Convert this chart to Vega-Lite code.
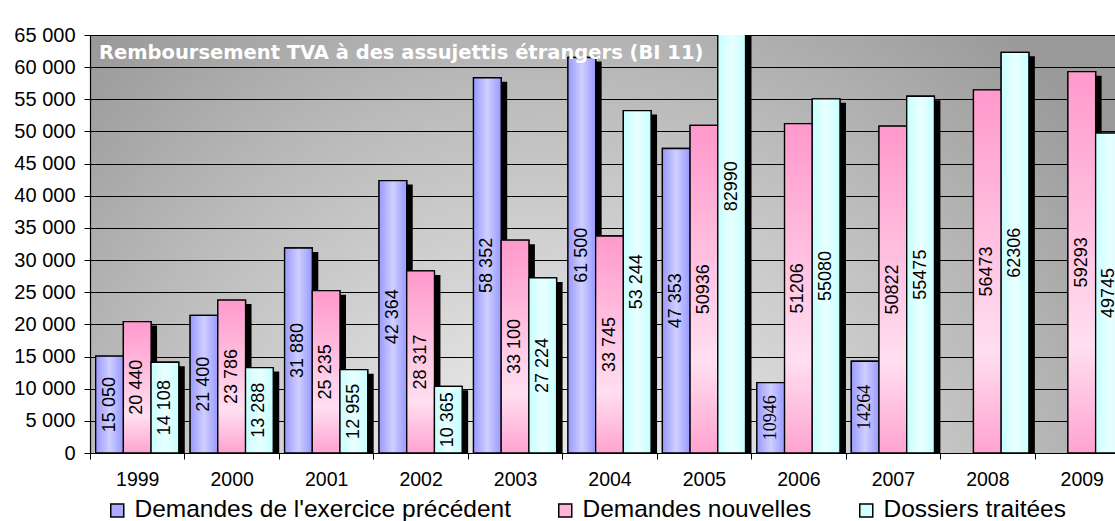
{
  "$schema": "https://vega.github.io/schema/vega-lite/v6.json",
  "width": 1039,
  "height": 418,
  "autosize": {"type": "none"},
  "padding": {"left": 90, "top": 35, "right": -14, "bottom": 68},
  "background": "white",
  "title": {
    "text": "Remboursement TVA à des assujettis étrangers (BI 11)",
    "anchor": "start",
    "frame": "group",
    "orient": "top",
    "offset": -53,
    "dx": 9,
    "baseline": "alphabetic",
    "color": "white",
    "fontSize": 19.5,
    "fontWeight": "bold",
    "font": "DejaVu Sans"
  },
  "data": {
    "values": [
      {"year": "1999", "series": "Demandes de l'exercice précédent", "value": 15050, "label": "15 050"},
      {"year": "1999", "series": "Demandes nouvelles", "value": 20440, "label": "20 440"},
      {"year": "1999", "series": "Dossiers traitées", "value": 14108, "label": "14 108"},
      {"year": "2000", "series": "Demandes de l'exercice précédent", "value": 21400, "label": "21 400"},
      {"year": "2000", "series": "Demandes nouvelles", "value": 23786, "label": "23 786"},
      {"year": "2000", "series": "Dossiers traitées", "value": 13288, "label": "13 288"},
      {"year": "2001", "series": "Demandes de l'exercice précédent", "value": 31880, "label": "31 880"},
      {"year": "2001", "series": "Demandes nouvelles", "value": 25235, "label": "25 235"},
      {"year": "2001", "series": "Dossiers traitées", "value": 12955, "label": "12 955"},
      {"year": "2002", "series": "Demandes de l'exercice précédent", "value": 42364, "label": "42 364"},
      {"year": "2002", "series": "Demandes nouvelles", "value": 28317, "label": "28 317"},
      {"year": "2002", "series": "Dossiers traitées", "value": 10365, "label": "10 365"},
      {"year": "2003", "series": "Demandes de l'exercice précédent", "value": 58352, "label": "58 352"},
      {"year": "2003", "series": "Demandes nouvelles", "value": 33100, "label": "33 100"},
      {"year": "2003", "series": "Dossiers traitées", "value": 27224, "label": "27 224"},
      {"year": "2004", "series": "Demandes de l'exercice précédent", "value": 61500, "label": "61 500"},
      {"year": "2004", "series": "Demandes nouvelles", "value": 33745, "label": "33 745"},
      {"year": "2004", "series": "Dossiers traitées", "value": 53244, "label": "53 244"},
      {"year": "2005", "series": "Demandes de l'exercice précédent", "value": 47353, "label": "47 353"},
      {"year": "2005", "series": "Demandes nouvelles", "value": 50936, "label": "50936"},
      {"year": "2005", "series": "Dossiers traitées", "value": 82990, "label": "82990"},
      {"year": "2006", "series": "Demandes de l'exercice précédent", "value": 10946, "label": "10946"},
      {"year": "2006", "series": "Demandes nouvelles", "value": 51206, "label": "51206"},
      {"year": "2006", "series": "Dossiers traitées", "value": 55080, "label": "55080"},
      {"year": "2007", "series": "Demandes de l'exercice précédent", "value": 14264, "label": "14264"},
      {"year": "2007", "series": "Demandes nouvelles", "value": 50822, "label": "50822"},
      {"year": "2007", "series": "Dossiers traitées", "value": 55475, "label": "55475"},
      {"year": "2008", "series": "Demandes nouvelles", "value": 56473, "label": "56473"},
      {"year": "2008", "series": "Dossiers traitées", "value": 62306, "label": "62306"},
      {"year": "2009", "series": "Demandes nouvelles", "value": 59293, "label": "59293"},
      {"year": "2009", "series": "Dossiers traitées", "value": 49745, "label": "49745"}
    ]
  },
  "resolve": {"scale": {"x": "independent", "y": "independent", "xOffset": "independent"}},
  "layer": [
    {
      "mark": {"type": "bar", "fill": "black", "yOffset": 4, "clip": true},
      "encoding": {
        "x": {"field": "year", "type": "ordinal", "axis": null,
              "scale": {"domain": ["1999","2000","2001","2002","2003","2004","2005","2006","2007","2008","2009"], "range": [6, 1045], "paddingInner": 0, "paddingOuter": 0}},
        "xOffset": {"field": "series", "type": "nominal",
              "scale": {"domain": ["Demandes de l'exercice précédent", "Demandes nouvelles", "Dossiers traitées"], "paddingInner": 0, "paddingOuter": 0.205}},
        "y": {"field": "value", "type": "quantitative", "axis": null, "scale": {"domain": [0, 65000], "nice": false}}
      }
    },
    {
      "mark": {"type": "bar", "stroke": "black", "strokeWidth": 1.3, "clip": true},
      "encoding": {
        "x": {"field": "year", "type": "ordinal",
              "scale": {"domain": ["1999","2000","2001","2002","2003","2004","2005","2006","2007","2008","2009"], "paddingInner": 0, "paddingOuter": 0},
              "axis": {"title": null, "tickBand": "extent", "labelAngle": 0, "labelFontSize": 19.5, "labelPadding": 11, "tickSize": 6, "grid": false}},
        "xOffset": {"field": "series", "type": "nominal",
              "scale": {"domain": ["Demandes de l'exercice précédent", "Demandes nouvelles", "Dossiers traitées"], "paddingInner": 0, "paddingOuter": 0.205}},
        "y": {"field": "value", "type": "quantitative",
              "scale": {"domain": [0, 65000], "nice": false},
              "axis": {"title": null, "values": [0,5000,10000,15000,20000,25000,30000,35000,40000,45000,50000,55000,60000,65000],
                       "labelExpr": "replace(format(datum.value, ','), ',', ' ')",
                       "grid": true, "gridColor": "black", "gridWidth": 1, "gridOpacity": 1,
                       "labelFontSize": 20, "labelPadding": 9, "tickSize": 6}},
        "color": {"field": "series", "type": "nominal",
              "scale": {"domain": ["Demandes de l'exercice précédent", "Demandes nouvelles", "Dossiers traitées"],
                        "range": ["#ababff", "#ffb6db", "#d4ffff"]},
              "legend": {"title": null, "orient": "none", "legendX": 15, "legendY": 463, "direction": "horizontal",
                         "symbolType": "square", "symbolSize": 169, "symbolStrokeColor": "black", "symbolStrokeWidth": 1.5, "symbolOpacity": 1,
                         "labelFontSize": 24.5, "labelFont": "Liberation Sans", "labelColor": "black", "labelOffset": 5, "columnPadding": 42, "labelLimit": 0}}
      }
    },
    {
      "mark": {"type": "bar", "stroke": "black", "strokeWidth": 1.3, "clip": true},
      "encoding": {
        "x": {"field": "year", "type": "ordinal", "axis": null,
              "scale": {"domain": ["1999","2000","2001","2002","2003","2004","2005","2006","2007","2008","2009"], "paddingInner": 0, "paddingOuter": 0}},
        "xOffset": {"field": "series", "type": "nominal",
              "scale": {"domain": ["Demandes de l'exercice précédent", "Demandes nouvelles", "Dossiers traitées"], "paddingInner": 0, "paddingOuter": 0.205}},
        "y": {"field": "value", "type": "quantitative", "axis": null, "scale": {"domain": [0, 65000], "nice": false}},
        "fill": {
          "condition": [
            {"test": "datum.series == \"Demandes de l'exercice précédent\"",
             "value": {"gradient": "linear", "x1": 0, "y1": 0, "x2": 1, "y2": 0, "stops": [{"offset": 0, "color": "#9999ff"}, {"offset": 0.5, "color": "#cfcfff"}, {"offset": 1, "color": "#9999ff"}]}},
            {"test": "datum.series == 'Demandes nouvelles'",
             "value": {"gradient": "linear", "x1": 0, "y1": 0, "x2": 0, "y2": 1, "stops": [{"offset": 0, "color": "#ff99cc"}, {"offset": 0.72, "color": "#ffdff0"}, {"offset": 1, "color": "#ffa3d1"}]}}
          ],
          "value": {"gradient": "linear", "x1": 0, "y1": 0, "x2": 1, "y2": 0, "stops": [{"offset": 0, "color": "#c6ffff"}, {"offset": 0.5, "color": "#eaffff"}, {"offset": 1, "color": "#c6ffff"}]}
        }
      }
    },
    {
      "transform": [{"filter": "!(datum.series == \"Demandes de l'exercice précédent\" && (datum.year == '2006' || datum.year == '2007'))"}],
      "mark": {"type": "text", "angle": 270, "align": "center", "baseline": "middle", "fontSize": 18, "font": "Liberation Sans", "color": "black"},
      "encoding": {
        "x": {"field": "year", "type": "ordinal", "axis": null,
              "scale": {"domain": ["1999","2000","2001","2002","2003","2004","2005","2006","2007","2008","2009"], "paddingInner": 0, "paddingOuter": 0}},
        "xOffset": {"field": "series", "type": "nominal",
              "scale": {"type": "point", "domain": ["Demandes de l'exercice précédent", "Demandes nouvelles", "Dossiers traitées"], "padding": 0.705}},
        "y": {"field": "value", "type": "quantitative", "axis": null, "scale": {"domain": [0, 130000], "nice": false}},
        "text": {"field": "label"}
      }
    },
    {
      "transform": [{"filter": "datum.series == \"Demandes de l'exercice précédent\" && (datum.year == '2006' || datum.year == '2007')"}],
      "mark": {"type": "text", "angle": 270, "align": "center", "baseline": "middle", "fontSize": 18, "font": "Liberation Serif", "color": "black"},
      "encoding": {
        "x": {"field": "year", "type": "ordinal", "axis": null,
              "scale": {"domain": ["1999","2000","2001","2002","2003","2004","2005","2006","2007","2008","2009"], "paddingInner": 0, "paddingOuter": 0}},
        "xOffset": {"field": "series", "type": "nominal",
              "scale": {"type": "point", "domain": ["Demandes de l'exercice précédent", "Demandes nouvelles", "Dossiers traitées"], "padding": 0.705}},
        "y": {"field": "value", "type": "quantitative", "axis": null, "scale": {"domain": [0, 130000], "nice": false}},
        "text": {"field": "label"}
      }
    }
  ],
  "config": {
    "view": {
      "stroke": "#8a8a8a",
      "fill": {"gradient": "radial", "x1": 0.45, "y1": 0.8, "r1": 0, "x2": 0.45, "y2": 0.8, "r2": 0.66,
               "stops": [{"offset": 0, "color": "#eeeeee"}, {"offset": 0.3, "color": "#e0e0e0"}, {"offset": 0.75, "color": "#b4b4b4"}, {"offset": 1, "color": "#9a9a9a"}]}
    },
    "axis": {"labelFont": "Liberation Sans", "labelColor": "black", "domainColor": "black", "tickColor": "black", "domainWidth": 1.2}
  }
}
